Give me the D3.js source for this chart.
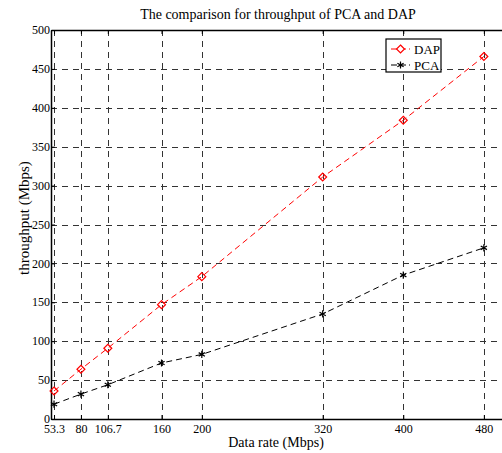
<!DOCTYPE html>
<html>
<head>
<meta charset="utf-8">
<script src="https://cdn.jsdelivr.net/npm/d3@7"></script>
<style>
  body { margin: 0; background: #fff; }
  svg text { font-family: "Liberation Serif", "Times New Roman", Times, "DejaVu Serif", serif; fill: #000; }
</style>
</head>
<body>
<div id="chart"></div>
<script>
// data
const rates = [53.3, 80, 106.7, 160, 200, 320, 400, 480];
const rateLabels = ["53.3", "80", "106.7", "160", "200", "320", "400", "480"];
const dapValues = [36, 64, 91, 147, 183, 311, 384, 466];
const pcaValues = [19, 32, 44, 72, 83, 135, 185, 220];
const yTicks = [0, 50, 100, 150, 200, 250, 300, 350, 400, 450, 500];

const width = 502, height = 453;
const margin = { top: 30, left: 51, bottom: 34 };
// the right edge of the plot runs off the picture
const plotRight = 504;

const svg = d3.select("#chart").append("svg")
  .attr("width", width)
  .attr("height", height);

const xScale = d3.scaleLinear()
  .domain([50.3, 500])
  .range([margin.left, plotRight]);

const yScale = d3.scaleLinear()
  .domain([0, 500])
  .range([height - margin.bottom, margin.top]);

// grid
const grid = svg.append("g")
  .attr("stroke", "#333")
  .attr("stroke-width", 1)
  .attr("stroke-dasharray", "6,5");

grid.selectAll("line.gx")
  .data(rates)
  .join("line")
  .attr("x1", d => Math.round(xScale(d)) + 0.5)
  .attr("x2", d => Math.round(xScale(d)) + 0.5)
  .attr("y1", yScale(500))
  .attr("y2", yScale(0));

grid.selectAll("line.gy")
  .data(yTicks.slice(1, -1))
  .join("line")
  .attr("x1", xScale.range()[0])
  .attr("x2", plotRight)
  .attr("y1", d => Math.round(yScale(d)) + 0.5)
  .attr("y2", d => Math.round(yScale(d)) + 0.5);

// axes
const xAxis = svg.append("g")
  .attr("transform", `translate(0,${yScale(0)})`)
  .call(d3.axisBottom(xScale)
    .tickValues(rates)
    .tickFormat((d, i) => rateLabels[i])
    .tickSizeInner(-4)
    .tickSizeOuter(0)
    .tickPadding(6));

const xTop = svg.append("g")
  .attr("transform", `translate(0,${yScale(500)})`)
  .call(d3.axisTop(xScale)
    .tickValues(rates)
    .tickFormat("")
    .tickSizeInner(-4)
    .tickSizeOuter(0));

const yAxis = svg.append("g")
  .attr("transform", `translate(${margin.left},0)`)
  .call(d3.axisLeft(yScale)
    .tickValues(yTicks)
    .tickSizeInner(-4)
    .tickSizeOuter(0)
    .tickPadding(1));

[xAxis, xTop, yAxis].forEach(a => {
  a.attr("font-family", null);
  a.select(".domain").attr("stroke", "#000").attr("stroke-width", 1.5);
  a.selectAll(".tick line").attr("stroke", "#000");
  a.selectAll("text").style("font-size", "12px");
});
yAxis.selectAll("text").attr("dy", "0.3em");
xAxis.selectAll("text").attr("dy", "0.7em");

// lines
const lineGen = d3.line()
  .x((d, i) => xScale(rates[i]))
  .y(d => yScale(d));

svg.append("path")
  .datum(dapValues)
  .attr("d", lineGen)
  .attr("fill", "none")
  .attr("stroke", "#ff0000")
  .attr("stroke-width", 1)
  .attr("stroke-dasharray", "6,4");

svg.append("path")
  .datum(pcaValues)
  .attr("d", lineGen)
  .attr("fill", "none")
  .attr("stroke", "#000")
  .attr("stroke-width", 1)
  .attr("stroke-dasharray", "6,4");

// markers
const diamond = d3.symbol().type(d3.symbolDiamond2).size(40);
const star = d3.symbol().type(d3.symbolAsterisk).size(36);

svg.selectAll("path.dap")
  .data(dapValues)
  .join("path")
  .attr("class", "dap")
  .attr("transform", (d, i) => `translate(${xScale(rates[i])},${yScale(d)})`)
  .attr("d", diamond)
  .attr("fill", "none")
  .attr("stroke", "#ff0000")
  .attr("stroke-width", 1.2);

svg.selectAll("path.pca")
  .data(pcaValues)
  .join("path")
  .attr("class", "pca")
  .attr("transform", (d, i) => `translate(${xScale(rates[i])},${yScale(d)})`)
  .attr("d", star)
  .attr("fill", "none")
  .attr("stroke", "#000")
  .attr("stroke-width", 1.2);

// legend
const legend = svg.append("g").attr("transform", "translate(386,39)");
legend.append("rect")
  .attr("width", 55)
  .attr("height", 33)
  .attr("fill", "#fff")
  .attr("stroke", "#000")
  .attr("stroke-width", 1.2);

const legendItems = [
  { name: "DAP", color: "#ff0000", symbol: diamond },
  { name: "PCA", color: "#000", symbol: star }
];
legendItems.forEach((item, i) => {
  const y = 10 + i * 16;
  legend.append("line")
    .attr("x1", 5).attr("x2", 24)
    .attr("y1", y).attr("y2", y)
    .attr("stroke", item.color)
    .attr("stroke-dasharray", "6,3");
  legend.append("path")
    .attr("transform", `translate(14.5,${y})`)
    .attr("d", item.symbol)
    .attr("fill", item.name === "DAP" ? "#fff" : "none")
    .attr("stroke", item.color)
    .attr("stroke-width", 1.2);
  legend.append("text")
    .attr("x", 28)
    .attr("y", y)
    .attr("dy", "0.35em")
    .style("font-size", "13px")
    .text(item.name);
});

// titles
svg.append("text")
  .attr("x", 278)
  .attr("y", 19)
  .attr("text-anchor", "middle")
  .style("font-size", "14px")
  .text("The comparison for throughput of PCA and DAP");

svg.append("text")
  .attr("x", 276)
  .attr("y", 447)
  .attr("text-anchor", "middle")
  .style("font-size", "14px")
  .text("Data rate (Mbps)");

svg.append("text")
  .attr("transform", `translate(29,218) rotate(-90)`)
  .attr("text-anchor", "middle")
  .style("font-size", "15px")
  .text("throughput (Mbps)");
</script>
</body>
</html>
